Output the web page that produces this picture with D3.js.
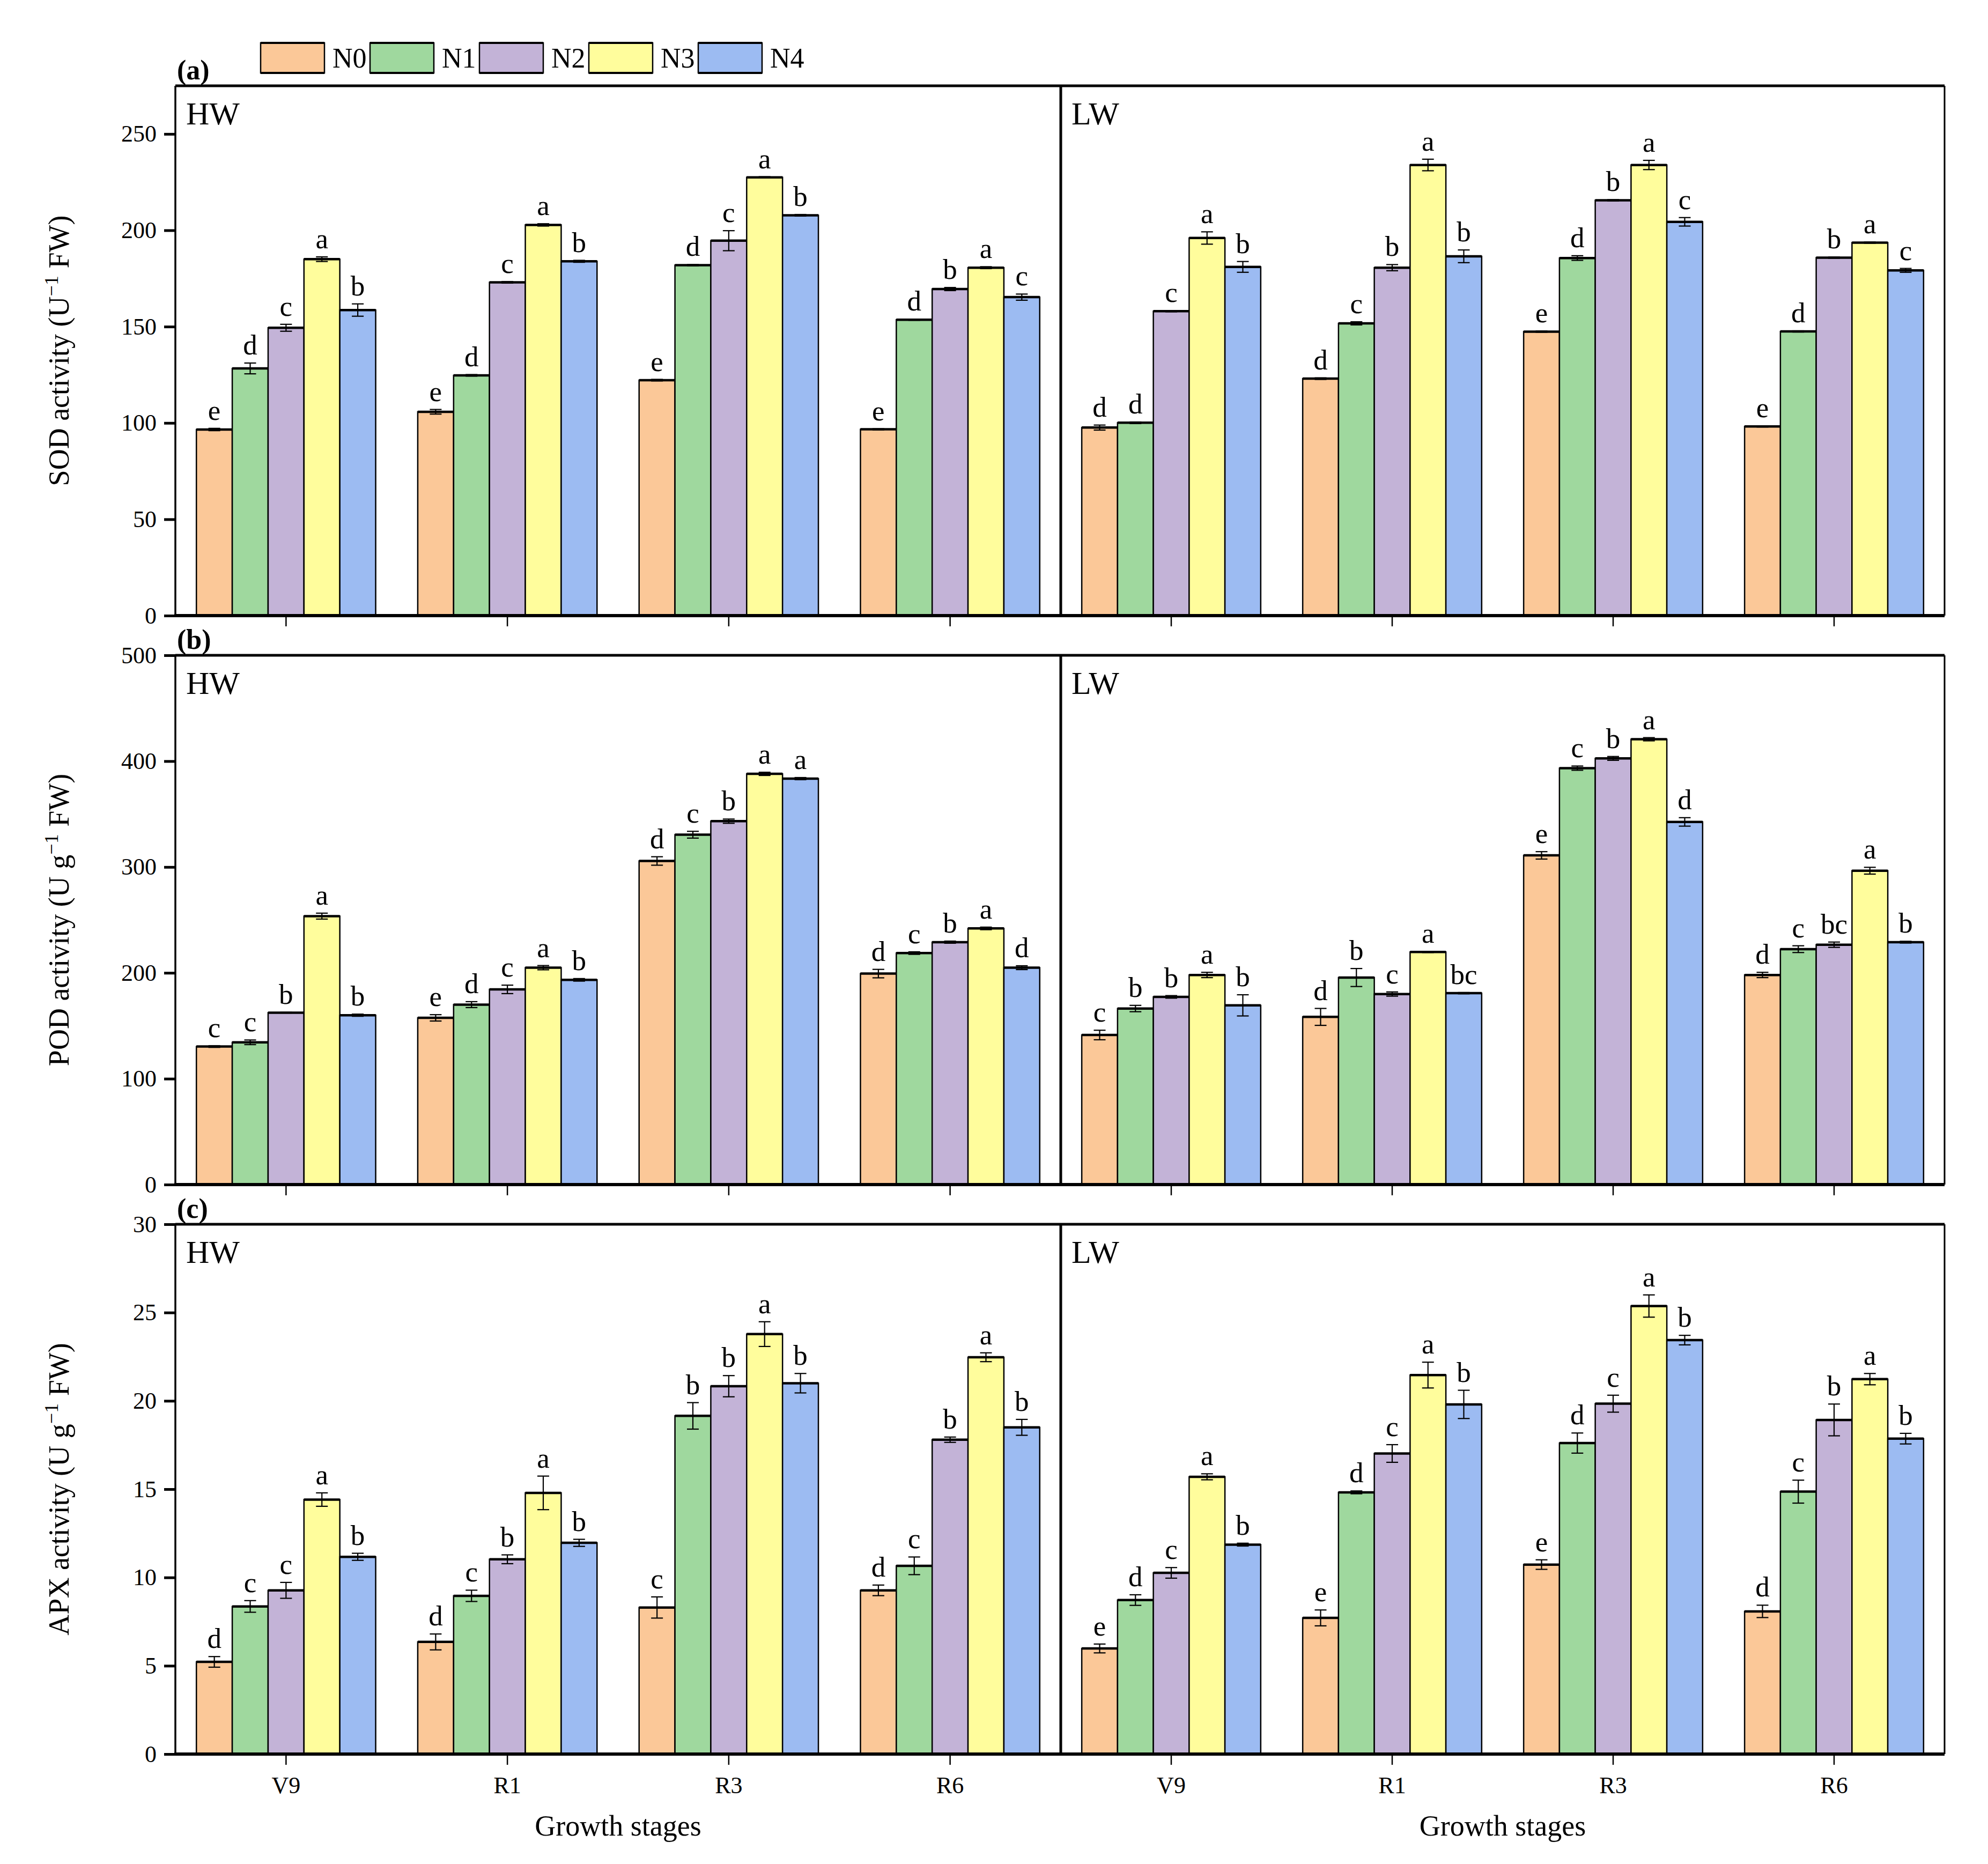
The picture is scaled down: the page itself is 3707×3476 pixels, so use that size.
<!DOCTYPE html>
<html lang="en">
<head>
<meta charset="UTF-8">
<title>SOD POD APX activity</title>
<script src="https://d3js.org/d3.v7.min.js"></script>
<style>
  body { margin: 0; background: #fff; }
  svg text { font-family: "Liberation Serif", "Times New Roman", serif; fill: #000; }
</style>
</head>
<body>
<div id="chart"></div>
<script>
// categories
const stages = ["V9", "R1", "R3", "R6"];
const treatments = ["N0", "N1", "N2", "N3", "N4"];
const colors = ["#FBC898", "#9FD89E", "#C3B3D7", "#FFFD9C", "#9CBBF2"];

// SOD, one row per stage, columns N0..N4
const sodHW = [[96.6, 128.3, 149.4, 185.0, 158.6], [105.8, 124.7, 173.0, 202.8, 183.9], [122.2, 181.9, 194.6, 227.5, 207.8], [96.7, 153.6, 169.5, 180.6, 165.3]];
const sodHWErr = [[0.6, 2.8, 1.8, 1.2, 3.2], [1.2, 0.4, 0.4, 0.6, 0.5], [0.4, 0.3, 5.2, 0.3, 0.4], [0.3, 0.3, 0.8, 0.5, 1.6]];
const sodHWLet = [["e", "d", "c", "a", "b"], ["e", "d", "c", "a", "b"], ["e", "d", "c", "a", "b"], ["e", "d", "b", "a", "c"]];
const sodLW = [[97.6, 100.1, 158.0, 196.0, 181.0], [123.0, 151.7, 180.6, 233.9, 186.5], [147.4, 185.6, 215.6, 233.9, 204.4], [98.2, 147.5, 185.8, 193.6, 179.2]];
const sodLWErr = [[1.3, 0.4, 0.3, 3.2, 2.8], [0.4, 0.8, 1.6, 3.0, 3.3], [0.3, 1.2, 0.3, 2.4, 2.2], [0.3, 0.3, 0.3, 0.3, 1.0]];
const sodLWLet = [["d", "d", "c", "a", "b"], ["d", "c", "b", "a", "b"], ["e", "d", "b", "a", "c"], ["e", "d", "b", "a", "c"]];

// POD
const podHW = [[130.4, 134.4, 162.4, 253.6, 160.0], [157.5, 170.0, 184.4, 204.9, 193.4], [305.7, 330.5, 343.3, 388.0, 383.5], [199.3, 218.7, 229.0, 242.0, 204.9]];
const podHWErr = [[0.8, 2.2, 0.3, 2.8, 1.0], [3.0, 2.8, 4.0, 2.0, 1.2], [4.0, 3.2, 2.0, 1.5, 1.0], [4.0, 1.2, 1.0, 1.2, 1.8]];
const podHWLet = [["c", "c", "b", "a", "b"], ["e", "d", "c", "a", "b"], ["d", "c", "b", "a", "a"], ["d", "c", "b", "a", "d"]];
const podLW = [[141.3, 166.3, 177.3, 198.0, 169.3], [158.4, 195.6, 180.0, 219.7, 180.8], [311.0, 393.4, 402.6, 420.7, 342.6], [198.0, 222.4, 226.6, 296.5, 229.0]];
const podLWErr = [[4.5, 3.0, 1.2, 2.5, 10.0], [8.0, 8.5, 2.0, 0.5, 0.6], [3.5, 2.0, 1.8, 1.5, 4.0], [2.5, 3.2, 2.5, 3.2, 0.8]];
const podLWLet = [["c", "b", "b", "a", "b"], ["d", "b", "c", "a", "bc"], ["e", "c", "b", "a", "d"], ["d", "c", "bc", "a", "b"]];

// APX
const apxHW = [[5.22, 8.36, 9.27, 14.41, 11.17], [6.35, 8.96, 11.03, 14.79, 11.96], [8.30, 19.15, 20.83, 23.78, 21.00], [9.27, 10.66, 17.80, 22.47, 18.50]];
const apxHWErr = [[0.30, 0.33, 0.45, 0.38, 0.20], [0.45, 0.32, 0.25, 0.95, 0.20], [0.60, 0.75, 0.60, 0.70, 0.55], [0.30, 0.50, 0.15, 0.25, 0.45]];
const apxHWLet = [["d", "c", "c", "a", "b"], ["d", "c", "b", "a", "b"], ["c", "b", "b", "a", "b"], ["d", "c", "b", "a", "b"]];
const apxLW = [[5.98, 8.72, 10.26, 15.70, 11.86], [7.71, 14.82, 17.02, 21.46, 19.80], [10.73, 17.61, 19.84, 25.37, 23.44], [8.08, 14.86, 18.92, 21.23, 17.86]];
const apxLWErr = [[0.25, 0.30, 0.30, 0.17, 0.08], [0.45, 0.08, 0.50, 0.73, 0.80], [0.27, 0.57, 0.48, 0.63, 0.27], [0.35, 0.65, 0.90, 0.32, 0.30]];
const apxLWLet = [["e", "d", "c", "a", "b"], ["e", "d", "c", "a", "b"], ["e", "d", "c", "a", "b"], ["d", "c", "b", "a", "b"]];

// y ticks
const sodTicks = [0, 50, 100, 150, 200, 250];
const podTicks = [0, 100, 200, 300, 400, 500];
const apxTicks = [0, 5, 10, 15, 20, 25, 30];

const W = 3707, H = 3476;
const xLeft = 327, xMid = 1978, xRight = 3626;

const rows = [
  { top: 160, bottom: 1148, max: 275, ticks: sodTicks, tag: "(a)",
    title: ["SOD activity (U", "\u22121", " FW)"],
    sides: [[sodHW, sodHWErr, sodHWLet], [sodLW, sodLWErr, sodLWLet]] },
  { top: 1222, bottom: 2209, max: 500, ticks: podTicks, tag: "(b)",
    title: ["POD activity (U g", "\u22121", " FW)"],
    sides: [[podHW, podHWErr, podHWLet], [podLW, podLWErr, podLWLet]] },
  { top: 2283, bottom: 3271, max: 30, ticks: apxTicks, tag: "(c)",
    title: ["APX activity (U g", "\u22121", " FW)"],
    sides: [[apxHW, apxHWErr, apxHWLet], [apxLW, apxLWErr, apxLWLet]] }
];
const sideNames = ["HW", "LW"];
const sideRanges = [[xLeft, xMid], [xMid, xRight]];

const svg = d3.select("#chart").append("svg")
  .attr("width", W).attr("height", H);

// legend
const leg = svg.append("g").attr("class", "legend");
treatments.forEach((t, i) => {
  const lx = 486 + i * 204;
  leg.append("rect")
    .attr("x", lx).attr("y", 80).attr("width", 119).attr("height", 56)
    .attr("fill", colors[i]).attr("stroke", "#000").attr("stroke-width", 2.5);
  leg.append("line")
    .attr("x1", lx).attr("x2", lx + 119).attr("y1", 80).attr("y2", 80)
    .attr("stroke", "#000").attr("stroke-width", 4);
  leg.append("line")
    .attr("x1", lx).attr("x2", lx + 119).attr("y1", 136).attr("y2", 136)
    .attr("stroke", "#000").attr("stroke-width", 4);
  leg.append("text")
    .attr("x", lx + 134).attr("y", 126)
    .attr("font-size", 52)
    .text(t);
});

rows.forEach((row, r) => {
  const g = svg.append("g");
  const y = d3.scaleLinear().domain([0, row.max]).range([row.bottom, row.top]);

  row.sides.forEach((side, s) => {
    const [vals, errs, lets] = side;
    const [x0, x1] = sideRanges[s];
    const x = d3.scaleBand().domain(stages).range([x0, x1])
      .paddingInner(0.19).paddingOuter(0.095);
    const xi = d3.scaleBand().domain(treatments).range([0, x.bandwidth()]);

    // x axis ticks (labels only on the last row)
    const xAxis = d3.axisBottom(x).tickSize(20).tickPadding(22)
      .tickFormat(r === rows.length - 1 ? d => d : () => "");
    const xa = g.append("g")
      .attr("transform", `translate(0,${row.bottom})`)
      .call(xAxis);
    xa.select(".domain").remove();
    xa.selectAll(".tick line").attr("stroke", "#000").attr("stroke-width", 2.5);
    xa.selectAll(".tick text").attr("font-size", 44)
      .attr("font-family", "Liberation Serif, serif").attr("fill", "#000");

    stages.forEach((st, k) => {
      const grp = g.append("g").attr("transform", `translate(${x(st)},0)`);
      treatments.forEach((t, j) => {
        const v = vals[k][j], e = errs[k][j];
        const bx = xi(t), bw = xi.bandwidth();
        grp.append("rect")
          .attr("x", bx).attr("y", y(v))
          .attr("width", bw).attr("height", y(0) - y(v))
          .attr("fill", colors[j]).attr("stroke", "#000").attr("stroke-width", 2.5);
        grp.append("line")
          .attr("x1", bx).attr("x2", bx + bw)
          .attr("y1", y(v)).attr("y2", y(v))
          .attr("stroke", "#000").attr("stroke-width", 4.5);
        const cx = bx + bw / 2;
        grp.append("line")
          .attr("x1", cx).attr("x2", cx)
          .attr("y1", y(v - e)).attr("y2", y(v + e))
          .attr("stroke", "#000").attr("stroke-width", 2.2);
        [v - e, v + e].forEach(ev => {
          grp.append("line")
            .attr("x1", cx - 11).attr("x2", cx + 11)
            .attr("y1", y(ev)).attr("y2", y(ev))
            .attr("stroke", "#000").attr("stroke-width", 2.2);
        });
        grp.append("text")
          .attr("x", cx).attr("y", y(v + e) - 16)
          .attr("text-anchor", "middle")
          .attr("font-size", 53)
          .text(lets[k][j]);
      });
    });

    g.append("text")
      .attr("x", x0 + 20).attr("y", row.top + 72)
      .attr("font-size", 60)
      .text(sideNames[s]);
  });

  // y axis on the left panel only
  const ya = g.append("g")
    .attr("transform", `translate(${xLeft},0)`)
    .call(d3.axisLeft(y).tickValues(row.ticks).tickSize(21).tickPadding(14));
  ya.select(".domain").remove();
  ya.selectAll(".tick line").attr("stroke", "#000").attr("stroke-width", 5);
  ya.selectAll(".tick text").attr("font-size", 44)
    .attr("font-family", "Liberation Serif, serif").attr("fill", "#000");

  // frame
  const frame = [
    [xLeft, row.top, xRight, row.top, 5],
    [xLeft - 2, row.bottom, xRight, row.bottom, 6],
    [xLeft, row.top, xLeft, row.bottom, 3.5],
    [xRight, row.top, xRight, row.bottom, 3],
    [xMid, row.top, xMid, row.bottom, 5]
  ];
  frame.forEach(f => {
    g.append("line")
      .attr("x1", f[0]).attr("y1", f[1]).attr("x2", f[2]).attr("y2", f[3])
      .attr("stroke", "#000").attr("stroke-width", f[4]);
  });

  // panel tag
  g.append("text")
    .attr("x", 330).attr("y", row.top - 12)
    .attr("font-size", 52).attr("font-weight", "bold")
    .text(row.tag);

  // y title
  const cy = (row.top + row.bottom) / 2;
  const tt = g.append("text")
    .attr("transform", `translate(128,${cy}) rotate(-90)`)
    .attr("text-anchor", "middle")
    .attr("font-size", 54);
  tt.append("tspan").text(row.title[0]);
  tt.append("tspan").attr("dy", -20).attr("font-size", 36).text(row.title[1]);
  tt.append("tspan").attr("dy", 20).text(row.title[2]);
});

// x titles
[[xLeft, xMid], [xMid, xRight]].forEach(rg => {
  svg.append("text")
    .attr("x", (rg[0] + rg[1]) / 2).attr("y", 3423)
    .attr("text-anchor", "middle")
    .attr("font-size", 54)
    .text("Growth stages");
});
</script>
</body>
</html>
